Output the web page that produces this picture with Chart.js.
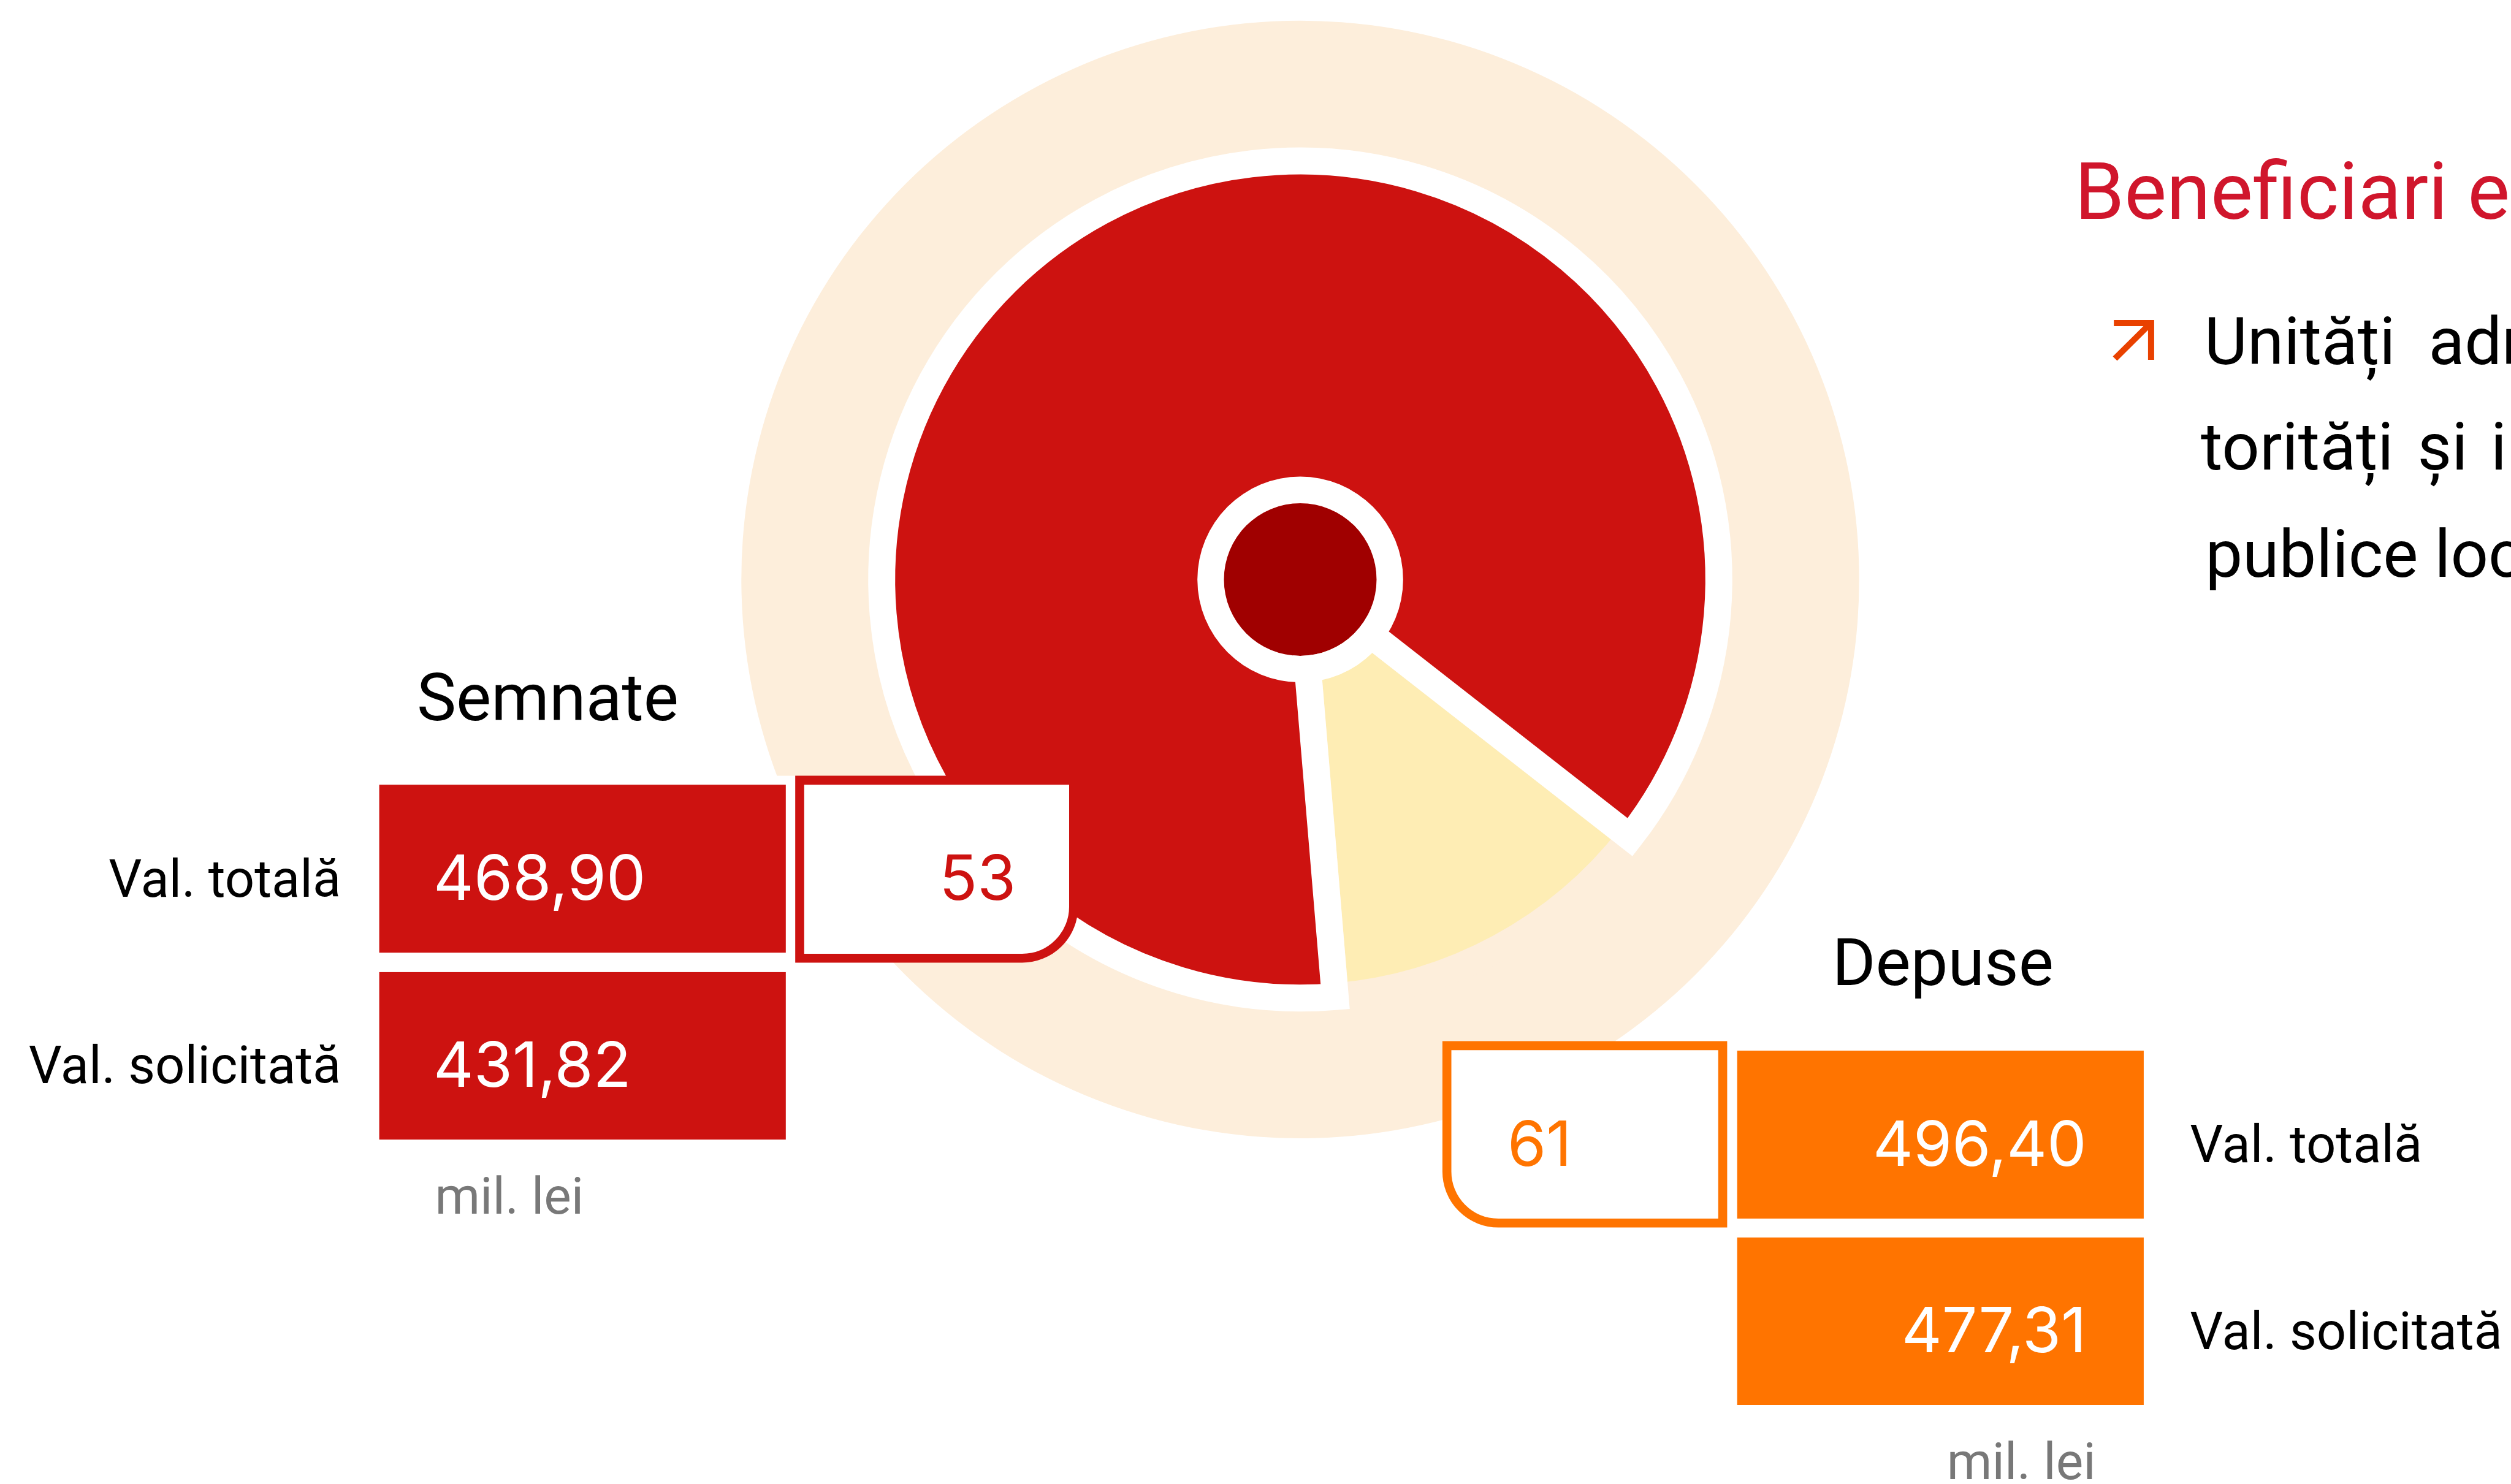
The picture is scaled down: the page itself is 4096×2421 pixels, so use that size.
<!DOCTYPE html>
<html lang="ro">
<head>
<meta charset="utf-8">
<title>Proiecte depuse și semnate</title>
<script src="https://cdn.jsdelivr.net/npm/chart.js@4.4.1/dist/chart.umd.min.js"></script>
<style>
  html, body { margin: 0; padding: 0; background: #ffffff; }
  #stage { position: relative; width: 4096px; height: 2421px; overflow: hidden; background: #ffffff; }
  #stage canvas, #stage svg { position: absolute; left: 0; top: 0; }
</style>
</head>
<body>
<div id="stage">
  <canvas id="ringChart" width="4096" height="2421"></canvas>
  <canvas id="hubChart" width="4096" height="2421"></canvas>
  <svg id="labels" width="4096" height="2421" xmlns="http://www.w3.org/2000/svg"></svg>
</div>
<script>
// ===========================
// Data
// ===========================

const categories = ['Semnate', 'Depuse'];
const projectCounts = [53, 61];            // număr de proiecte
const totalValues = [468.90, 496.40];      // mil. lei
const requestedValues = [431.82, 477.31];  // mil. lei
const rowLabels = ['Val. totală', 'Val. solicitată'];
const unitLabel = 'mil. lei';

const heading = 'Beneficiari eligibili';
const bulletLines = [
  ['Unități', 'administrativ-teritoriale, au-'],
  ['torități', 'și', 'instituții'],
  ['publice', 'locale']
];

// ===========================
// Colours
// ===========================

const RED = '#cd1210';
const DARK_RED = '#a00000';
const ORANGE = '#ff7400';
const BEIGE = '#fdeedb';
const YELLOW = '#feedb4';
const TITLE_RED = '#d0162c';
const ARROW = '#e94100';
const GREY = '#787878';

// Pie centre and radii (px)
const CX = 2121, CY = 945.4;
const W = 4096, H = 2421;
const padding = { left: 2 * CX - W, right: 0, top: 0, bottom: H - 2 * CY };

const OUTER_R = 911.7;     // beige halo
const SLICE_R = 682.8;     // slice path (white border is centred on it)
const SLICE_BORDER = 44;
const HUB_R = 167.8;       // white ring around the hub
const HUB_INNER_R = 124.5; // dark red hub

const baseOptions = {
  responsive: false,
  animation: false,
  events: [],
  layout: { padding },
  plugins: { legend: { display: false }, tooltip: { enabled: false } }
};

// ===========================
// Pie: signed vs. remaining submitted projects
// ===========================

const depuse = projectCounts[1];
const semnate = projectCounts[0];

new Chart(document.getElementById('ringChart'), {
  type: 'pie',
  data: {
    labels: ['Nesemnate', 'Semnate'],
    datasets: [
      {
        // halo behind the pie
        data: [depuse],
        backgroundColor: BEIGE,
        borderWidth: 0,
        weight: OUTER_R - SLICE_R,
        order: 2
      },
      {
        data: [depuse - semnate, semnate],
        backgroundColor: [YELLOW, RED],
        borderColor: [BEIGE, '#ffffff'],
        borderWidth: SLICE_BORDER,
        borderJoinStyle: 'miter',
        weight: SLICE_R,
        order: 1
      }
    ]
  },
  options: Object.assign({}, baseOptions, { radius: OUTER_R, rotation: 128 })
});

// Hub in the middle of the pie
new Chart(document.getElementById('hubChart'), {
  type: 'pie',
  data: {
    labels: ['Depuse'],
    datasets: [
      { data: [depuse], backgroundColor: '#ffffff', borderWidth: 0, weight: HUB_R - HUB_INNER_R },
      { data: [depuse], backgroundColor: DARK_RED, borderWidth: 0, weight: HUB_INNER_R }
    ]
  },
  options: Object.assign({}, baseOptions, { radius: HUB_R })
});

// ===========================
// Value boxes and texts
// ===========================

const svg = document.getElementById('labels');
const SVG_NS = 'http://www.w3.org/2000/svg';

function add(tag, attrs, text) {
  const el = document.createElementNS(SVG_NS, tag);
  for (const k in attrs) el.setAttribute(k, attrs[k]);
  if (text !== undefined) el.textContent = text;
  svg.appendChild(el);
  return el;
}

function label(x, y, str, size, color, anchor, family) {
  return add('text', {
    x, y,
    'font-family': family || 'Roboto',
    'font-size': size,
    fill: color,
    'text-anchor': anchor || 'start'
  }, str);
}

const fmt = v => v.toFixed(2).replace('.', ',');

// box with one rounded corner; outer bounds, border drawn inside them
function countBox(x0, y0, x1, y1, color, corner) {
  const b = 14.6, r = 84;
  const a = x0 + b / 2, t = y0 + b / 2, c = x1 - b / 2, d = y1 - b / 2;
  let p;
  if (corner === 'br') {
    p = `M${a},${t} H${c} V${d - r} A${r},${r} 0 0 1 ${c - r},${d} H${a} Z`;
  } else {
    p = `M${a},${t} H${c} V${d} H${a + r} A${r},${r} 0 0 1 ${a},${d - r} Z`;
  }
  add('path', { d: p, fill: '#ffffff', stroke: color, 'stroke-width': b });
}

const LABEL_SIZE = 85;
const VALUE_SIZE = 102;

// --- Semnate (left) ---
add('rect', { x: 600, y: 1265.6, width: 700, height: 595, fill: '#ffffff' });
label(893.5, 1174.8, categories[0], 108, '#000', 'middle');
add('rect', { x: 618.6, y: 1280.2, width: 663.2, height: 274, fill: RED });
add('rect', { x: 618.6, y: 1585.9, width: 663.2, height: 273.2, fill: RED });
label(707, 1468.3, fmt(totalValues[0]), VALUE_SIZE, '#fff', 'start', 'Inter');
label(707, 1773.2, fmt(requestedValues[0]), VALUE_SIZE, '#fff', 'start', 'Inter');
label(556.2, 1462.6, rowLabels[0], LABEL_SIZE, '#000', 'end');
label(556.2, 1766.7, rowLabels[1], LABEL_SIZE, '#000', 'end');
countBox(1297.2, 1265.6, 1758.6, 1570.5, RED, 'br');
label(1657.2, 1468.3, String(projectCounts[0]), VALUE_SIZE, RED, 'end', 'Inter');
label(709.4, 1979.9, unitLabel, 84, GREY);

// --- Depuse (right) ---
label(3169.3, 1606.5, categories[1], 108, '#000', 'middle');
add('rect', { x: 2833.7, y: 1714, width: 663.2, height: 274, fill: ORANGE });
add('rect', { x: 2833.7, y: 2018.8, width: 663.2, height: 273.2, fill: ORANGE });
label(3403.6, 1902, fmt(totalValues[1]), VALUE_SIZE, '#fff', 'end', 'Inter');
label(3403.6, 2206.1, fmt(requestedValues[1]), VALUE_SIZE, '#fff', 'end', 'Inter');
label(3572.3, 1896.4, rowLabels[0], LABEL_SIZE, '#000');
label(3572.3, 2201.3, rowLabels[1], LABEL_SIZE, '#000');
countBox(2352.9, 1698.6, 2817.4, 2002.6, ORANGE, 'bl');
label(2459.1, 1902, String(projectCounts[1]), VALUE_SIZE, ORANGE, 'start', 'Inter');
label(3175.8, 2412.9, unitLabel, 84, GREY);

// --- Beneficiaries note (top right) ---
label(3384.2, 356.7, heading, 130, TITLE_RED);
add('path', {
  d: 'M3450,585 L3508.5,527 M3448.2,527.1 H3508.9 V587',
  fill: 'none', stroke: ARROW, 'stroke-width': 10, 'stroke-linejoin': 'miter'
});
const lineBaselines = [594.3, 766.2, 940.5];
const wordStarts = [[3595.8, 3961.4], [3590.1, 3943.6, 4062.8], [3597.4, 3971.2]];
bulletLines.forEach((words, i) => {
  words.forEach((w, j) => label(wordStarts[i][j], lineBaselines[i], w, 108, '#000'));
});
</script>
</body>
</html>
